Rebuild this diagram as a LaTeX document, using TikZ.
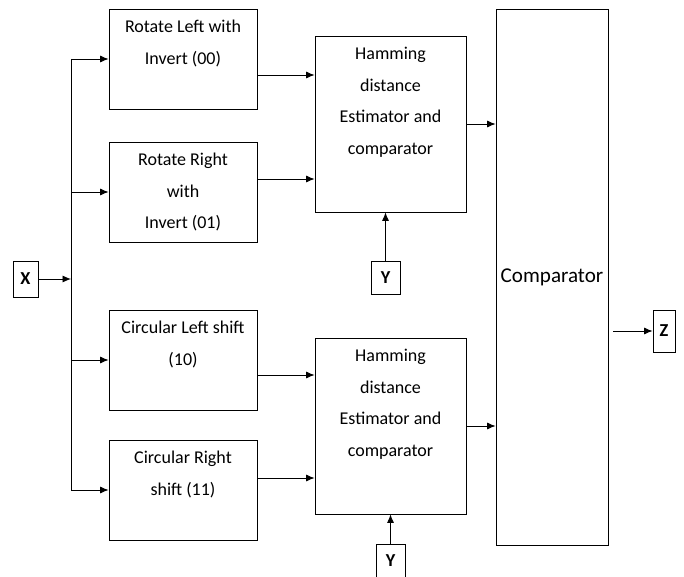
\documentclass[tikz,border=0pt]{standalone}
\usepackage{fontspec}
\setmainfont{Carlito}
\usetikzlibrary{arrows.meta,positioning,calc}

\begin{document}
\begin{tikzpicture}[
    >={Latex[length=6pt,width=5pt]},
    every path/.style={line width=0.6pt},
    block/.style={rectangle, draw, minimum width=3.7cm, minimum height=2.5cm, inner sep=0pt},
    hamm/.style={rectangle, draw, minimum width=3.775cm, minimum height=4.4cm, inner sep=0pt},
    txt/.style={anchor=north, align=center, inner sep=0pt, yshift=-0.28cm, font=\fontsize{12.8}{22.5}\selectfont},
    port/.style={rectangle, draw, inner sep=0pt, font=\fontsize{13}{15}\selectfont\bfseries}
]
\useasboundingbox (0,0) rectangle (17.1,14.4);

% input shifters
\node[block] (b1) at (4.575, 12.925) {};
\node[block] (b2) at (4.575, 9.6) {};
\node[block] (b3) at (4.575, 5.4) {};
\node[block] (b4) at (4.575, 2.15) {};
\node[txt] (t1) at (b1.north) {Rotate Left with\\Invert (00)};
\node[txt] (t2) at (b2.north) {Rotate Right\\with\\Invert (01)};
\node[txt] (t3) at (b3.north) {Circular Left shift\\(10)};
\node[txt] (t4) at (b4.north) {Circular Right\\shift (11)};

% hamming distance blocks
\node[hamm] (h1) at (9.7625, 11.3) {};
\node[hamm] (h2) at (9.7625, 3.75) {};
\node[txt] (th1) at (h1.north) {Hamming\\distance\\Estimator and\\comparator};
\node[txt] (th2) at (h2.north) {Hamming\\distance\\Estimator and\\comparator};

% final comparator
\node[rectangle, draw, minimum width=2.8cm, minimum height=13.4cm, inner sep=0pt,
      font=\fontsize{15}{18}\selectfont] (cmp) at (13.8, 7.475) {Comparator};

% ports
\node[port, minimum width=0.625cm, minimum height=0.9cm] (x) at (0.6375, 7.425) {X};
\node[port, minimum width=0.725cm, minimum height=0.825cm] (y1) at (9.6375, 7.46) {Y};
\node[port, minimum width=0.725cm, minimum height=0.825cm] (y2) at (9.7625, 0.3875) {Y};
\node[port, minimum width=0.55cm, minimum height=1.05cm] (z) at (16.6, 6.125) {Z};

% bus from X
\coordinate (bustop) at (1.775, 0 |- b1.west);
\coordinate (busbot) at (1.775, 0 |- b4.west);
\draw (bustop) -- (busbot);
\draw[->] (x.east) -- (x.east -| bustop);
\draw[->] (bustop) -- (b1.west);
\draw[->] (b2.west -| bustop) -- (b2.west);
\draw[->] (b3.west -| bustop) -- (b3.west);
\draw[->] (busbot) -- (b4.west);

% shifters to hamming blocks
\coordinate (h1a) at ($(h1.west)+(0,1.225)$);
\coordinate (h1b) at ($(h1.west)+(0,-1.375)$);
\coordinate (h2a) at ($(h2.west)+(0,1.275)$);
\coordinate (h2b) at ($(h2.west)+(0,-1.3)$);
\draw[->] (h1a -| b1.east) -- (h1a);
\draw[->] (h1b -| b2.east) -- (h1b);
\draw[->] (h2a -| b3.east) -- (h2a);
\draw[->] (h2b -| b4.east) -- (h2b);

% Y inputs
\draw[->] (y1.north) -- (y1.north |- h1.south);
\draw[->] (y2.north) -- (y2.north |- h2.south);

% to comparator and output
\draw[->] (h1.east) -- (h1.east -| cmp.west);
\draw[->] (h2.east) -- (h2.east -| cmp.west);
\coordinate (zout) at ($(cmp.east |- z.west)+(0.125,0)$);
\draw[->] (zout) -- (z.west);

\end{tikzpicture}
\end{document}
